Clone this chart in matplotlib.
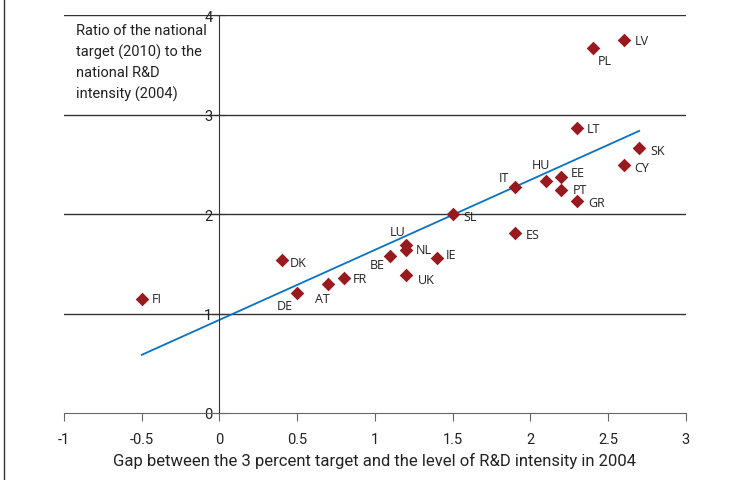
import numpy as np
import matplotlib
matplotlib.use('Agg')
import matplotlib.pyplot as plt

# data
countries = ['FI', 'DK', 'DE', 'AT', 'FR', 'BE', 'LU', 'NL', 'UK', 'IE', 'SL', 'ES',
             'IT', 'HU', 'EE', 'PT', 'GR', 'LT', 'SK', 'CY', 'PL', 'LV']
gap = [-0.5, 0.4, 0.5, 0.7, 0.8, 1.1, 1.2, 1.2, 1.2, 1.4, 1.5, 1.9,
       1.9, 2.1, 2.2, 2.2, 2.3, 2.3, 2.7, 2.6, 2.4, 2.6]
ratio = [1.15, 1.54, 1.21, 1.30, 1.36, 1.58, 1.69, 1.64, 1.39, 1.56, 2.00, 1.81,
         2.27, 2.33, 2.37, 2.24, 2.13, 2.86, 2.66, 2.49, 3.67, 3.75]
# label offsets in pixels (dx, dy), positive dy = up
offsets = {'FI': (10, 0), 'DK': (8, -3), 'DE': (-12, -13), 'AT': (-6, -15),
           'FR': (9, -1), 'BE': (-13, -9), 'LU': (-8, 13), 'NL': (10, 0),
           'UK': (12, -5), 'IE': (9, 3), 'SL': (11, -2), 'ES': (11, -2),
           'IT': (-11, 10), 'HU': (-5, 17), 'EE': (9, 5), 'PT': (11, 1),
           'GR': (11, -1), 'LT': (10, 0), 'SK': (11, -2), 'CY': (11, -2),
           'PL': (12, -13), 'LV': (11, -1)}
centered = ['DE', 'AT', 'BE', 'LU', 'IT', 'HU', 'PL']

x_ticks = [-1, -0.5, 0, 0.5, 1, 1.5, 2, 2.5, 3]
x_ticklabels = ['-1', '-0.5', '0', '0.5', '1', '1.5', '2', '2.5', '3']
y_ticks = [0, 1, 2, 3, 4]

fig = plt.figure(figsize=(7.42, 4.81), dpi=100)
ax = fig.add_axes([0.0863, 0.1393, 0.838, 0.8274])

# left frame line of the figure
fig.add_artist(plt.Line2D([0.0055, 0.0055], [0, 1], color='#333333', lw=1))

for y in y_ticks[1:]:
    ax.axhline(y, color='#333333', lw=1, zorder=1)

# linear trend
coef = np.polyfit(gap, ratio, 1)
xs = np.array([-0.5, 2.7])
ax.plot(xs, np.polyval(coef, xs), color='#0a72c4', lw=1.3, zorder=2)

ax.scatter(gap, ratio, marker='D', s=48, color='#98191e', zorder=3, linewidths=0)

for c, x, y in zip(countries, gap, ratio):
    dx, dy = offsets[c]
    ax.annotate(c, (x, y), xytext=(dx, dy), textcoords='offset pixels',
                ha='center' if c in centered else 'left', va='center',
                fontsize=9, family='Open Sans', color='#222222')

ax.set_xlim(-1, 3)
ax.set_ylim(0, 4)
for s in ['top', 'right']:
    ax.spines[s].set_visible(False)
ax.spines['left'].set_position(('data', 0))
ax.spines['bottom'].set_position(('data', 0))
ax.spines['left'].set_color('#333333')
ax.spines['bottom'].set_color('#666666')
ax.set_xticks(x_ticks)
ax.set_xticklabels(x_ticklabels)
ax.set_yticks(y_ticks)
ax.tick_params(axis='x', direction='out', length=6, color='#666666', pad=8,
               labelsize=10.5)
ax.tick_params(axis='y', direction='inout', length=8, color='#333333', pad=1,
               labelsize=10.5)
for lab in ax.get_xticklabels() + ax.get_yticklabels():
    lab.set_family('Roboto')
    lab.set_color('#222222')

ax.text(-0.92, 3.92, 'Ratio of the national\ntarget (2010) to the\nnational R&D\nintensity (2004)',
        ha='left', va='top', fontsize=10.5, family='Roboto', color='#222222',
        linespacing=1.55)
fig.text(0.505, 0.042, 'Gap between the 3 percent target and the level of R&D intensity in 2004',
         ha='center', va='center', fontsize=12, family='Roboto', color='#222222')

fig.savefig('out.png', dpi=100)
